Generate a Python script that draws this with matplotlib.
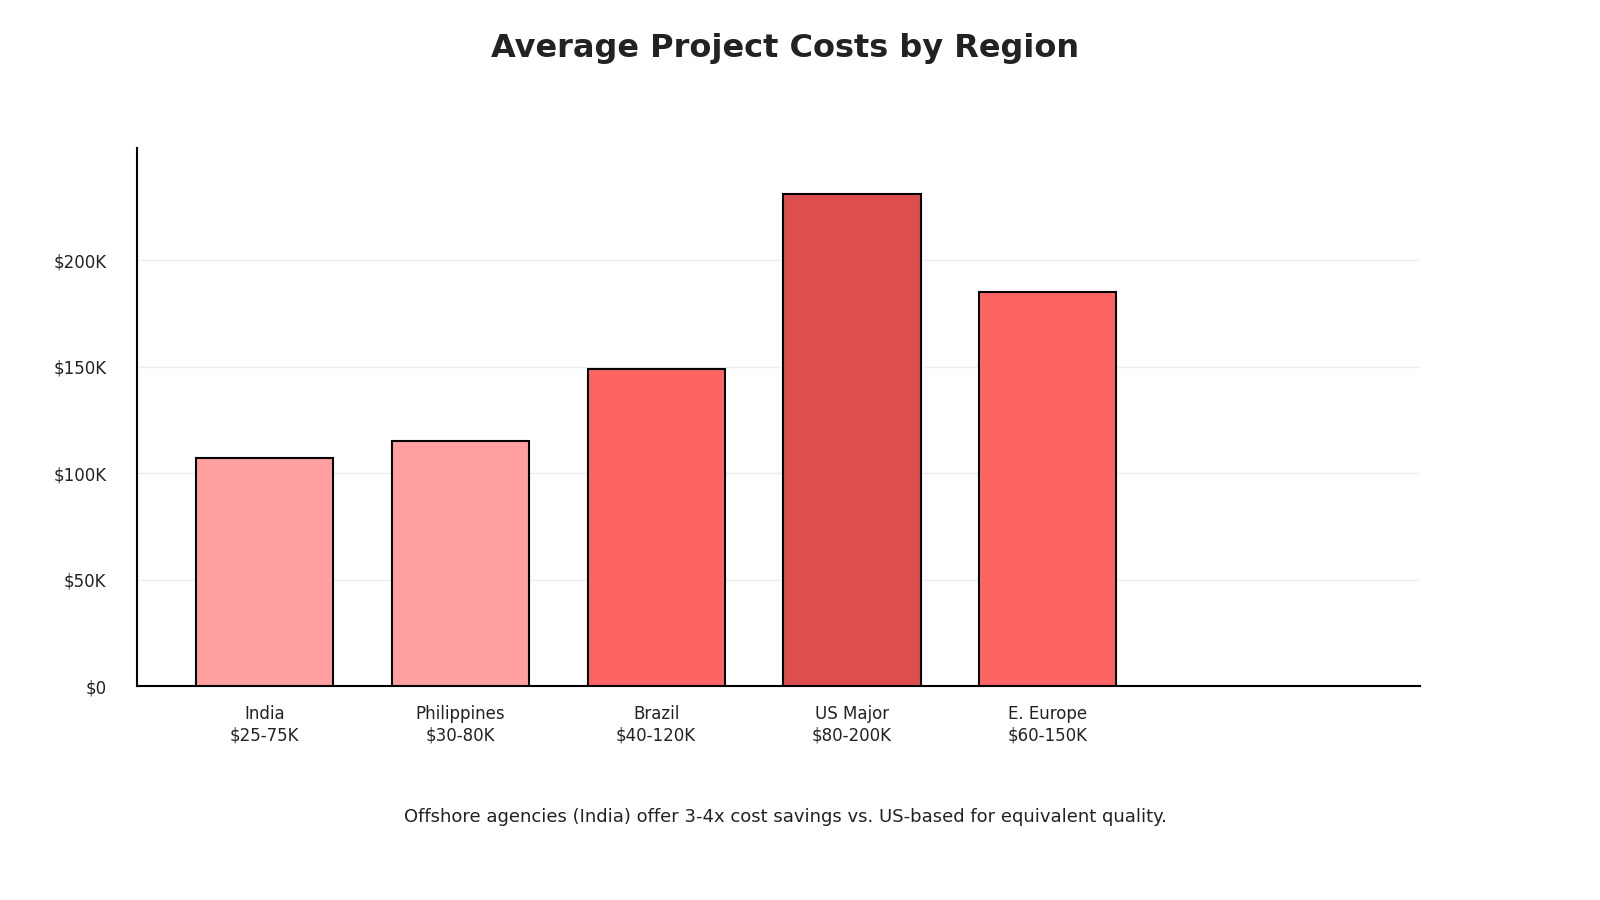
import matplotlib.pyplot as plt

regions = ['India', 'Philippines', 'Brazil', 'US Major', 'E. Europe']
ranges = ['$25-75K', '$30-80K', '$40-120K', '$80-200K', '$60-150K']
costs = [107, 115, 149, 231, 185]
colors = ['#FF9F9F', '#FF9F9F', '#FF6464', '#DD4E4E', '#FF6464']
yticks = [0, 50, 100, 150, 200]
ylabels = ['$0', '$50K', '$100K', '$150K', '$200K']

fig = plt.figure(figsize=(16, 9), dpi=100)
ax = fig.add_axes([137/1600, 1-686/900, (1420-137)/1600, (686-148)/900])

x = range(len(regions))
ax.bar(x, costs, width=0.7, color=colors, edgecolor='black', linewidth=1.5, zorder=3)
ax.set_xlim(-0.65, 5.9)
ax.set_ylim(0, 252.6)
ax.set_xticks(list(x))
ax.set_xticklabels([r + '\n' + g for r, g in zip(regions, ranges)], fontsize=12, color='#222222')
ax.set_yticks(yticks)
ax.set_yticklabels(ylabels, fontsize=12, color='#222222')
ax.tick_params(length=0, pad=22)
ax.tick_params(axis='x', pad=14)
ax.grid(axis='y', color='#eeeeee', linewidth=1, zorder=0)
for s in ['top', 'right']:
    ax.spines[s].set_visible(False)
ax.spines['left'].set_linewidth(1.5)
ax.spines['bottom'].set_linewidth(1.5)

fig.text(785/1600, 1-48/900, 'Average Project Costs by Region', ha='center', va='center',
         fontsize=23, fontweight='bold', color='#222222')
fig.text(785/1600, 1-817/900, 'Offshore agencies (India) offer 3-4x cost savings vs. US-based for equivalent quality.',
         ha='center', va='center', fontsize=13, color='#222222')

fig.savefig('out.png')
